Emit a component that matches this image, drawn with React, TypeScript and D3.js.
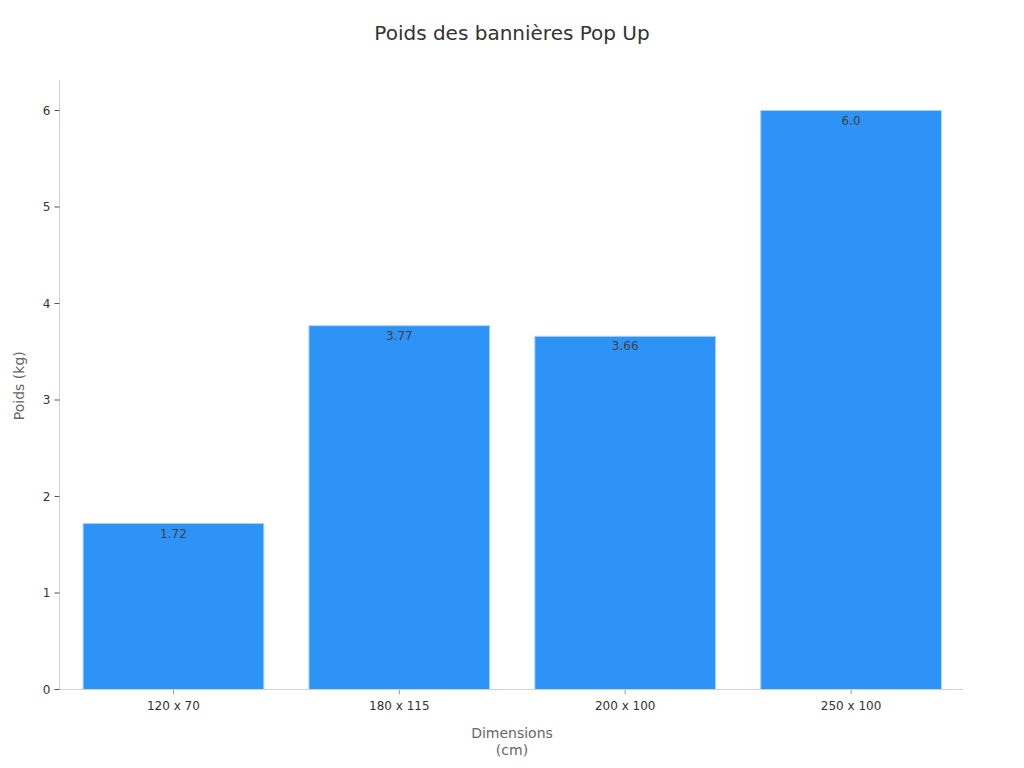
import React from "react";
import * as d3 from "d3";

const categories = ["120 x 70", "180 x 115", "200 x 100", "250 x 100"];
const values = [1.72, 3.77, 3.66, 6.0];
const valueLabels = ["1.72", "3.77", "3.66", "6.0"];
const yTicks = [0, 1, 2, 3, 4, 5, 6];

const W = 1024;
const H = 768;
const left = 59.5;
const right = 963;
const top = 80;
const bottom = 689.5;
const font = "DejaVu Sans, sans-serif";

export default function App() {
  const x = d3.scaleBand<string>().domain(categories).range([left + 1, right + 1]).paddingInner(0.2).paddingOuter(0.1);
  const y = d3.scaleLinear().domain([0, 6]).range([bottom, 110.5]);
  return (
    <svg width={W} height={H} style={{ position: "absolute", left: 0, top: 0 }} fontFamily={font}>
      <rect width={W} height={H} fill="#fff" />
      <text x={512} y={40} textAnchor="middle" fontSize={20} fill="#333">Poids des bannières Pop Up</text>
      {categories.map((c, i) => (
        <g key={c}>
          <rect x={x(c)!} y={y(values[i])} width={x.bandwidth()} height={y(0) - y(values[i])} fill="#2e93f7" stroke="#a9d1fb" strokeWidth={1} />
          <text x={x(c)! + x.bandwidth() / 2} y={y(values[i]) + 14} textAnchor="middle" fontSize={12} fill="#404040">{valueLabels[i]}</text>
          <line x1={x(c)! + x.bandwidth() / 2} x2={x(c)! + x.bandwidth() / 2} y1={bottom} y2={bottom + 5} stroke="#999" />
          <text x={x(c)! + x.bandwidth() / 2} y={bottom + 20} textAnchor="middle" fontSize={12} fill="#333">{c}</text>
        </g>
      ))}
      <line x1={left} x2={left} y1={top} y2={bottom} stroke="#d0d0d0" />
      <line x1={left} x2={right} y1={bottom} y2={bottom} stroke="#d0d0d0" />
      {yTicks.map((t) => (
        <g key={t}>
          <line x1={left - 5} x2={left} y1={y(t)} y2={y(t)} stroke="#555" />
          <text x={left - 9} y={y(t) + 4} textAnchor="end" fontSize={12} fill="#333">{t}</text>
        </g>
      ))}
      <text x={512} y={738} textAnchor="middle" fontSize={14} fill="#666">Dimensions</text>
      <text x={512} y={755} textAnchor="middle" fontSize={14} fill="#666">(cm)</text>
      <text transform={`translate(24, ${(top + bottom) / 2 + 1}) rotate(-90)`} textAnchor="middle" fontSize={14} fill="#666">Poids (kg)</text>
    </svg>
  );
}
